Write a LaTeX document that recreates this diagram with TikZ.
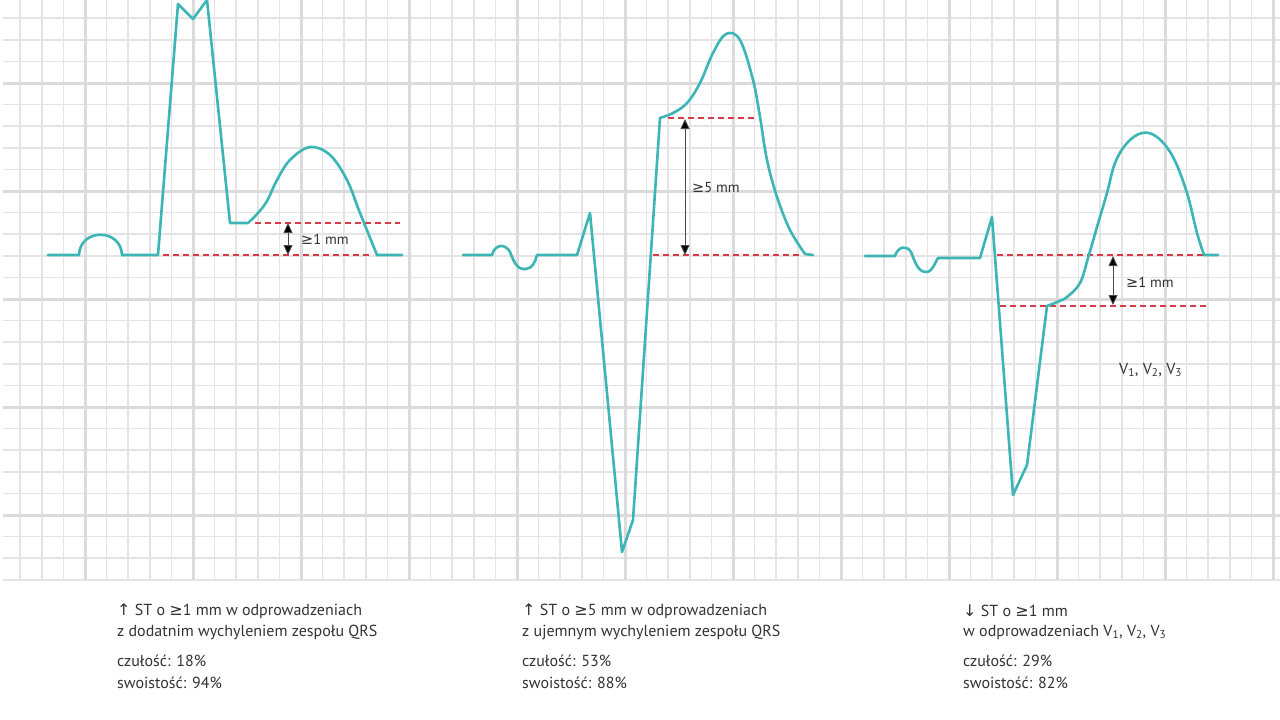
\documentclass[tikz,border=0pt]{standalone}
\usepackage{fontspec}
\setmainfont{PT Sans}
\newfontfamily\symf{DejaVu Sans}
\usetikzlibrary{arrows.meta}
\definecolor{ecg}{HTML}{3BB5B5}
\definecolor{gridthin}{HTML}{E4E4E4}
\definecolor{gridthick}{HTML}{DBDBDB}
\definecolor{stred}{HTML}{D83A46}
\definecolor{txt}{HTML}{333333}
\tikzset{
  thinline/.style={draw=gridthin, line width=1.6pt},
  thickline/.style={draw=gridthick, line width=3pt},
  ecgline/.style={draw=ecg, line width=2.6pt, line join=round, line cap=round},
  stline/.style={draw=stred, line width=2.4pt, dash pattern=on 6pt off 4pt},
  dimarrow/.style={draw=black!70, line width=0.8pt, {Triangle[width=9pt,length=10pt,fill=black]}-{Triangle[width=9pt,length=10pt,fill=black]}},
  lbl/.style={anchor=west, text=txt, inner sep=0pt, font=\fontsize{14.5}{16}\selectfont},
  caption/.style={anchor=west, text=txt, inner sep=0pt, font=\fontsize{16}{18}\selectfont}
}
\begin{document}
\begin{tikzpicture}[x=1pt,y=-1pt]
\useasboundingbox (0,0) rectangle (1280,720);
\fill[white] (0,0) rectangle (1280,720);
% grid
\foreach \k in {0,...,58} {\draw[thinline] ({20.2+21.6*\k},0) -- ({20.2+21.6*\k},580);}
\foreach \k in {0,...,26} {\draw[thinline] (3,{18.2+21.6*\k}) -- (1280,{18.2+21.6*\k});}
\foreach \k in {0,...,11} {\draw[thickline] ({85+108*\k},0) -- ({85+108*\k},580);}
\foreach \k in {0,...,4} {\draw[thickline] (3,{83+108*\k}) -- (1280,{83+108*\k});}

% ---- panel 1
\draw[stline] (255,223) -- (400,223);
\draw[stline] (163,255) -- (373,255);
\draw[ecgline] (48,255) -- (79,255) .. controls (80,228) and (121,228) .. (122,255) -- (158,255) -- (178,4) -- (193,19) -- (207,0) -- (230,223) -- (248,223)
  -- plot[smooth, tension=0.6] coordinates {(248,223) (258,213) (267,201) (277,180) (290,160) (310,147) (330,155) (347,180) (360,213) (377,255)} -- (402,255);
\coordinate (a1t) at (288,223);
\coordinate (a1b) at (288,255);
\draw[dimarrow] (a1t) -- (a1b);
\node[lbl] (l1) at (301,239) {{\symf ≥}1 mm};

% ---- panel 2
\draw[stline] (668,118) -- (757,118);
\draw[stline] (653,255) -- (800,255);
\draw[ecgline] (463,255) -- (492,255) .. controls (495,244) and (505,243) .. (510,252) .. controls (514,262) and (517,270) .. (526,269) .. controls (533,268) and (535,262) .. (537,255) -- (577,255) -- (590,213) -- (622,552) -- (633,520) -- (660,118)
  -- plot[smooth, tension=0.6] coordinates {(660,118) (673,113) (687,103) (700,83) (713,53) (726,34) (740,40) (753,80) (760,117) (767,160) (777,197) (790,230) (805,254)} -- (813,255);
\coordinate (a2t) at (685,119);
\coordinate (a2b) at (685,255);
\draw[dimarrow] (a2t) -- (a2b);
\node[lbl] (l2) at (692,188) {{\symf ≥}5 mm};

% ---- panel 3
\draw[stline] (997,255) -- (1203,255);
\draw[stline] (1000,306) -- (1207,306);
\draw[ecgline] (865,256) -- (895,256) .. controls (898,246) and (907,245) .. (911,252) .. controls (915,262) and (918,272) .. (926,272) .. controls (933,272) and (935,262) .. (938,258) -- (980,258) -- (992,217) -- (1013,495) -- (1027,465) -- (1047,306)
  -- plot[smooth, tension=0.6] coordinates {(1047,306) (1057,302) (1067,297) (1080,283) (1088,258) (1097,227) (1107,193) (1115,163) (1127,143) (1142,133) (1157,137) (1173,157) (1187,193) (1197,233) (1204,255)} -- (1218,255);
\coordinate (a3t) at (1113,256);
\coordinate (a3b) at (1113,305);
\draw[dimarrow] (a3t) -- (a3b);
\node[lbl] (l3) at (1126,282) {{\symf ≥}1 mm};
\node[lbl, font=\fontsize{16}{18}\selectfont] (vlab) at (1119,370) {V\textsubscript{1}, V\textsubscript{2}, V\textsubscript{3}};

% ---- captions
\node[caption] (c1a) at (117,611) {{\symf ↑} ST o {\symf ≥}1 mm w odprowadzeniach};
\node[caption] (c1b) at (117,632) {z dodatnim wychyleniem zespołu QRS};
\node[caption] (c1c) at (117,661) {czułość: 18\%};
\node[caption] (c1d) at (117,683) {swoistość: 94\%};

\node[caption] (c2a) at (522,611) {{\symf ↑} ST o {\symf ≥}5 mm w odprowadzeniach};
\node[caption] (c2b) at (522,632) {z ujemnym wychyleniem zespołu QRS};
\node[caption] (c2c) at (522,661) {czułość: 53\%};
\node[caption] (c2d) at (522,683) {swoistość: 88\%};

\node[caption] (c3a) at (963,611) {{\symf ↓} ST o {\symf ≥}1 mm};
\node[caption] (c3b) at (963,632) {w odprowadzeniach V\textsubscript{1}, V\textsubscript{2}, V\textsubscript{3}};
\node[caption] (c3c) at (963,661) {czułość: 29\%};
\node[caption] (c3d) at (963,683) {swoistość: 82\%};
\end{tikzpicture}
\end{document}
